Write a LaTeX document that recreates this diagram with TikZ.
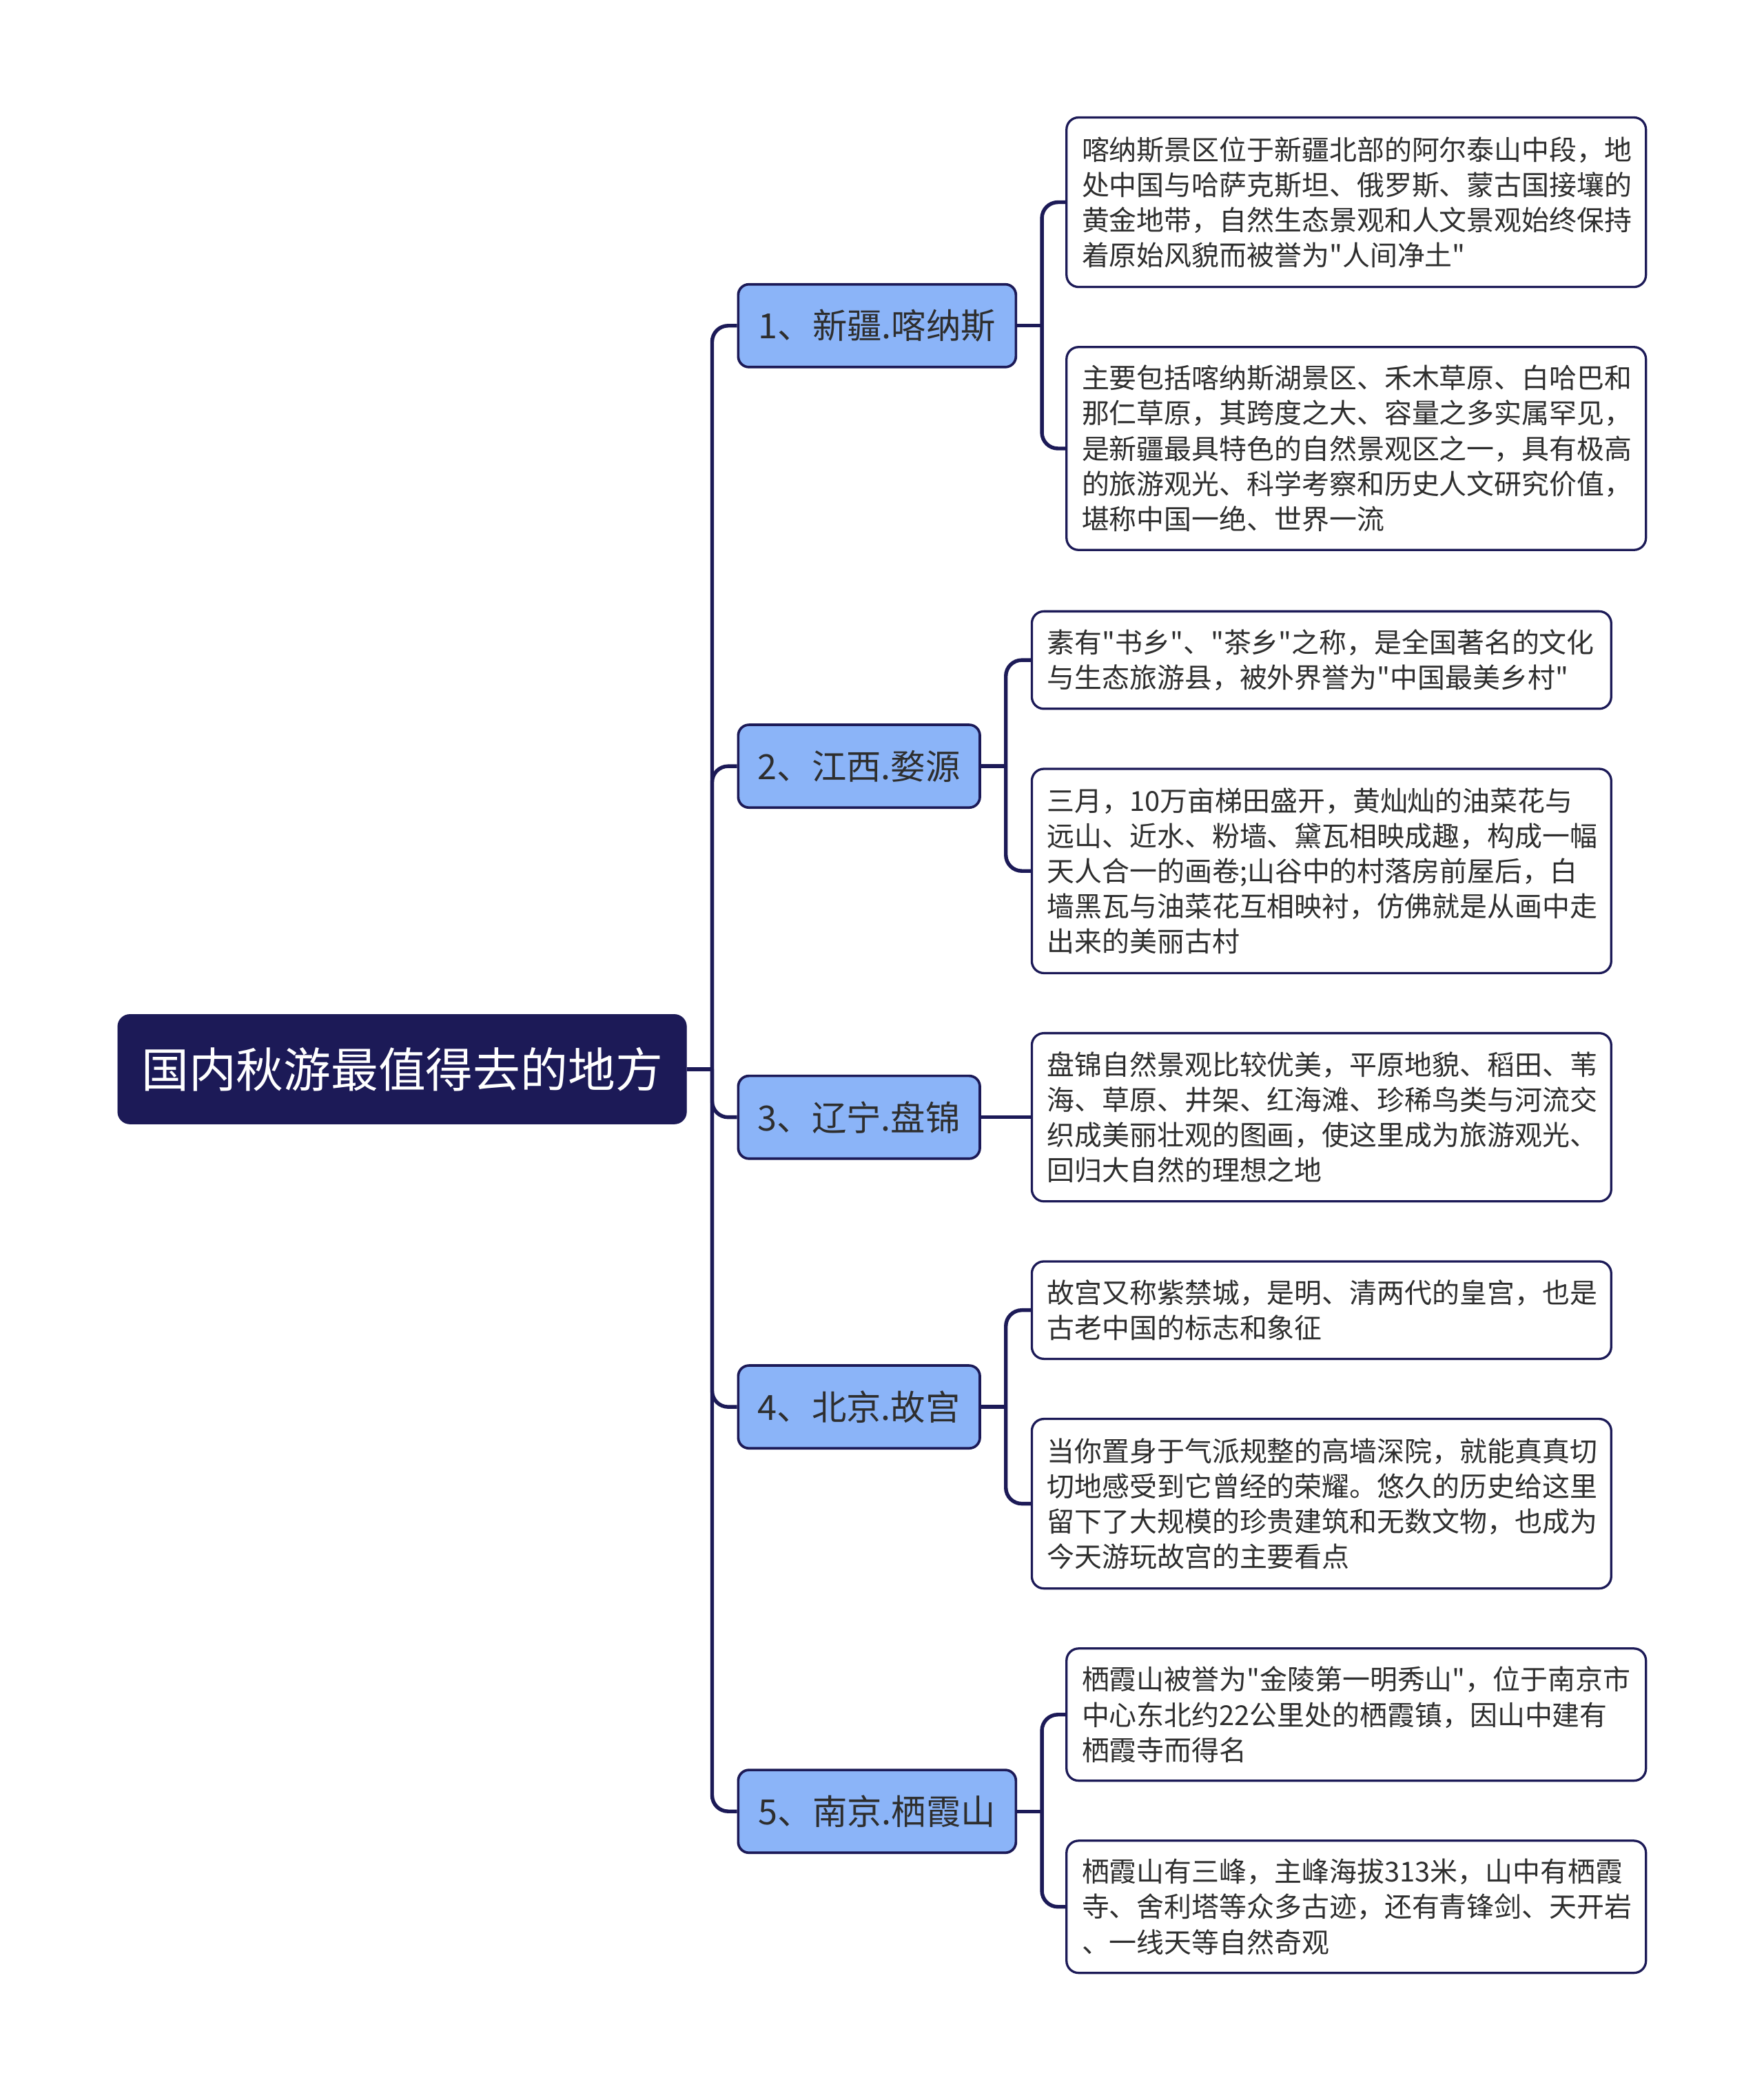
\documentclass[tikz,border=0pt]{standalone}
\usepackage{fontspec}
\setmainfont{Noto Sans CJK SC}[Ligatures=TeXOff]
\usetikzlibrary{calc,positioning}
\definecolor{Navy}{HTML}{1C1A57}
\definecolor{Sky}{HTML}{8BB4F8}
\definecolor{Ink}{HTML}{2E2E2E}

\begin{document}
\begin{tikzpicture}[x=1pt,y=-1pt]
    \tikzset{link/.style={draw=Navy,line width=2.8pt,rounded corners=12pt},
      topic/.style={rounded corners=9pt,fill=Navy,draw=Navy,text=white,anchor=west,
        minimum width=426pt,minimum height=82pt,font=\fontsize{35.5}{40}\selectfont},
      branch/.style={rounded corners=8pt,fill=Sky,draw=Navy,line width=1.9pt,text=Ink,
        anchor=west,minimum height=62pt,inner xsep=0pt,font=\fontsize{26}{30}\selectfont},
      leaf/.style={rounded corners=9pt,fill=white,draw=Navy,line width=1.7pt,text=Ink,
        anchor=west,text width=411pt,inner xsep=11.5pt,align=left,
        font=\fontsize{20.6}{26.4}\selectfont}}
    \useasboundingbox (0,0) rectangle (1321,1568);

    \node[topic] (root) at (88,801) {国内秋游最值得去的地方};

    \foreach \y/\w/\id/\txt in {244/208/b1/{1、新疆.喀纳斯},574/181/b2/{2、江西.婺源},
                               837/181/b3/{3、辽宁.盘锦},1054/181/b4/{4、北京.故宫},
                               1357/208/b5/{5、南京.栖霞山}}{
      \node[branch,minimum width=\w pt] (\id) at (552,\y) {\txt};
    }

    % Xinjiang
    \node[leaf,minimum height=127pt] (l1a) at (798,151.5) {喀纳斯景区位于新疆北部的阿尔泰山中段，地\\处中国与哈萨克斯坦、俄罗斯、蒙古国接壤的\\黄金地带，自然生态景观和人文景观始终保持\\着原始风貌而被誉为"人间净土"};
    \node[leaf,minimum height=152pt] (l1b) at (798,336) {主要包括喀纳斯湖景区、禾木草原、白哈巴和\\那仁草原，其跨度之大、容量之多实属罕见，\\是新疆最具特色的自然景观区之一，具有极高\\的旅游观光、科学考察和历史人文研究价值，\\堪称中国一绝、世界一流};

    % Jiangxi
    \node[leaf,minimum height=73pt] (l2a) at (772,494.5) {素有"书乡"、"茶乡"之称，是全国著名的文化\\与生态旅游县，被外界誉为"中国最美乡村"};
    \node[leaf,minimum height=153pt] (l2b) at (772,652.5) {三月，10万亩梯田盛开，黄灿灿的油菜花与\\远山、近水、粉墙、黛瓦相映成趣，构成一幅\\天人合一的画卷;山谷中的村落房前屋后，白\\墙黑瓦与油菜花互相映衬，仿佛就是从画中走\\出来的美丽古村};

    % Liaoning
    \node[leaf,minimum height=126pt] (l3a) at (772,837) {盘锦自然景观比较优美，平原地貌、稻田、苇\\海、草原、井架、红海滩、珍稀鸟类与河流交\\织成美丽壮观的图画，使这里成为旅游观光、\\回归大自然的理想之地};

    % Beijing
    \node[leaf,minimum height=73pt] (l4a) at (772,981.5) {故宫又称紫禁城，是明、清两代的皇宫，也是\\古老中国的标志和象征};
    \node[leaf,minimum height=127pt] (l4b) at (772,1126.5) {当你置身于气派规整的高墙深院，就能真真切\\切地感受到它曾经的荣耀。悠久的历史给这里\\留下了大规模的珍贵建筑和无数文物，也成为\\今天游玩故宫的主要看点};

    % Nanjing
    \node[leaf,minimum height=99pt] (l5a) at (798,1284.5) {栖霞山被誉为"金陵第一明秀山"，位于南京市\\中心东北约22公里处的栖霞镇，因山中建有\\栖霞寺而得名};
    \node[leaf,minimum height=99pt] (l5b) at (798,1428.5) {栖霞山有三峰，主峰海拔313米，山中有栖霞\\寺、舍利塔等众多古迹，还有青锋剑、天开岩\\、一线天等自然奇观};

    % connectors
    \coordinate (hub) at ($(root.east)+(19,0)$);
    \draw[link] (root.east) -- (hub);
    \foreach \id in {b1,b2,b3,b4,b5}{
      \draw[link] (hub) |- (\id.west);
    }
    \foreach \id/\a/\b in {b1/l1a/l1b,b2/l2a/l2b,b4/l4a/l4b,b5/l5a/l5b}{
      \coordinate (\id h) at ($(\id.east)+(18.5,0)$);
      \draw[link] (\id.east) -- (\id h);
      \draw[link] (\id h) |- (\a.west);
      \draw[link] (\id h) |- (\b.west);
    }
    \draw[link] (b3.east) -- (l3a.west);
  \end{tikzpicture}
\end{document}
